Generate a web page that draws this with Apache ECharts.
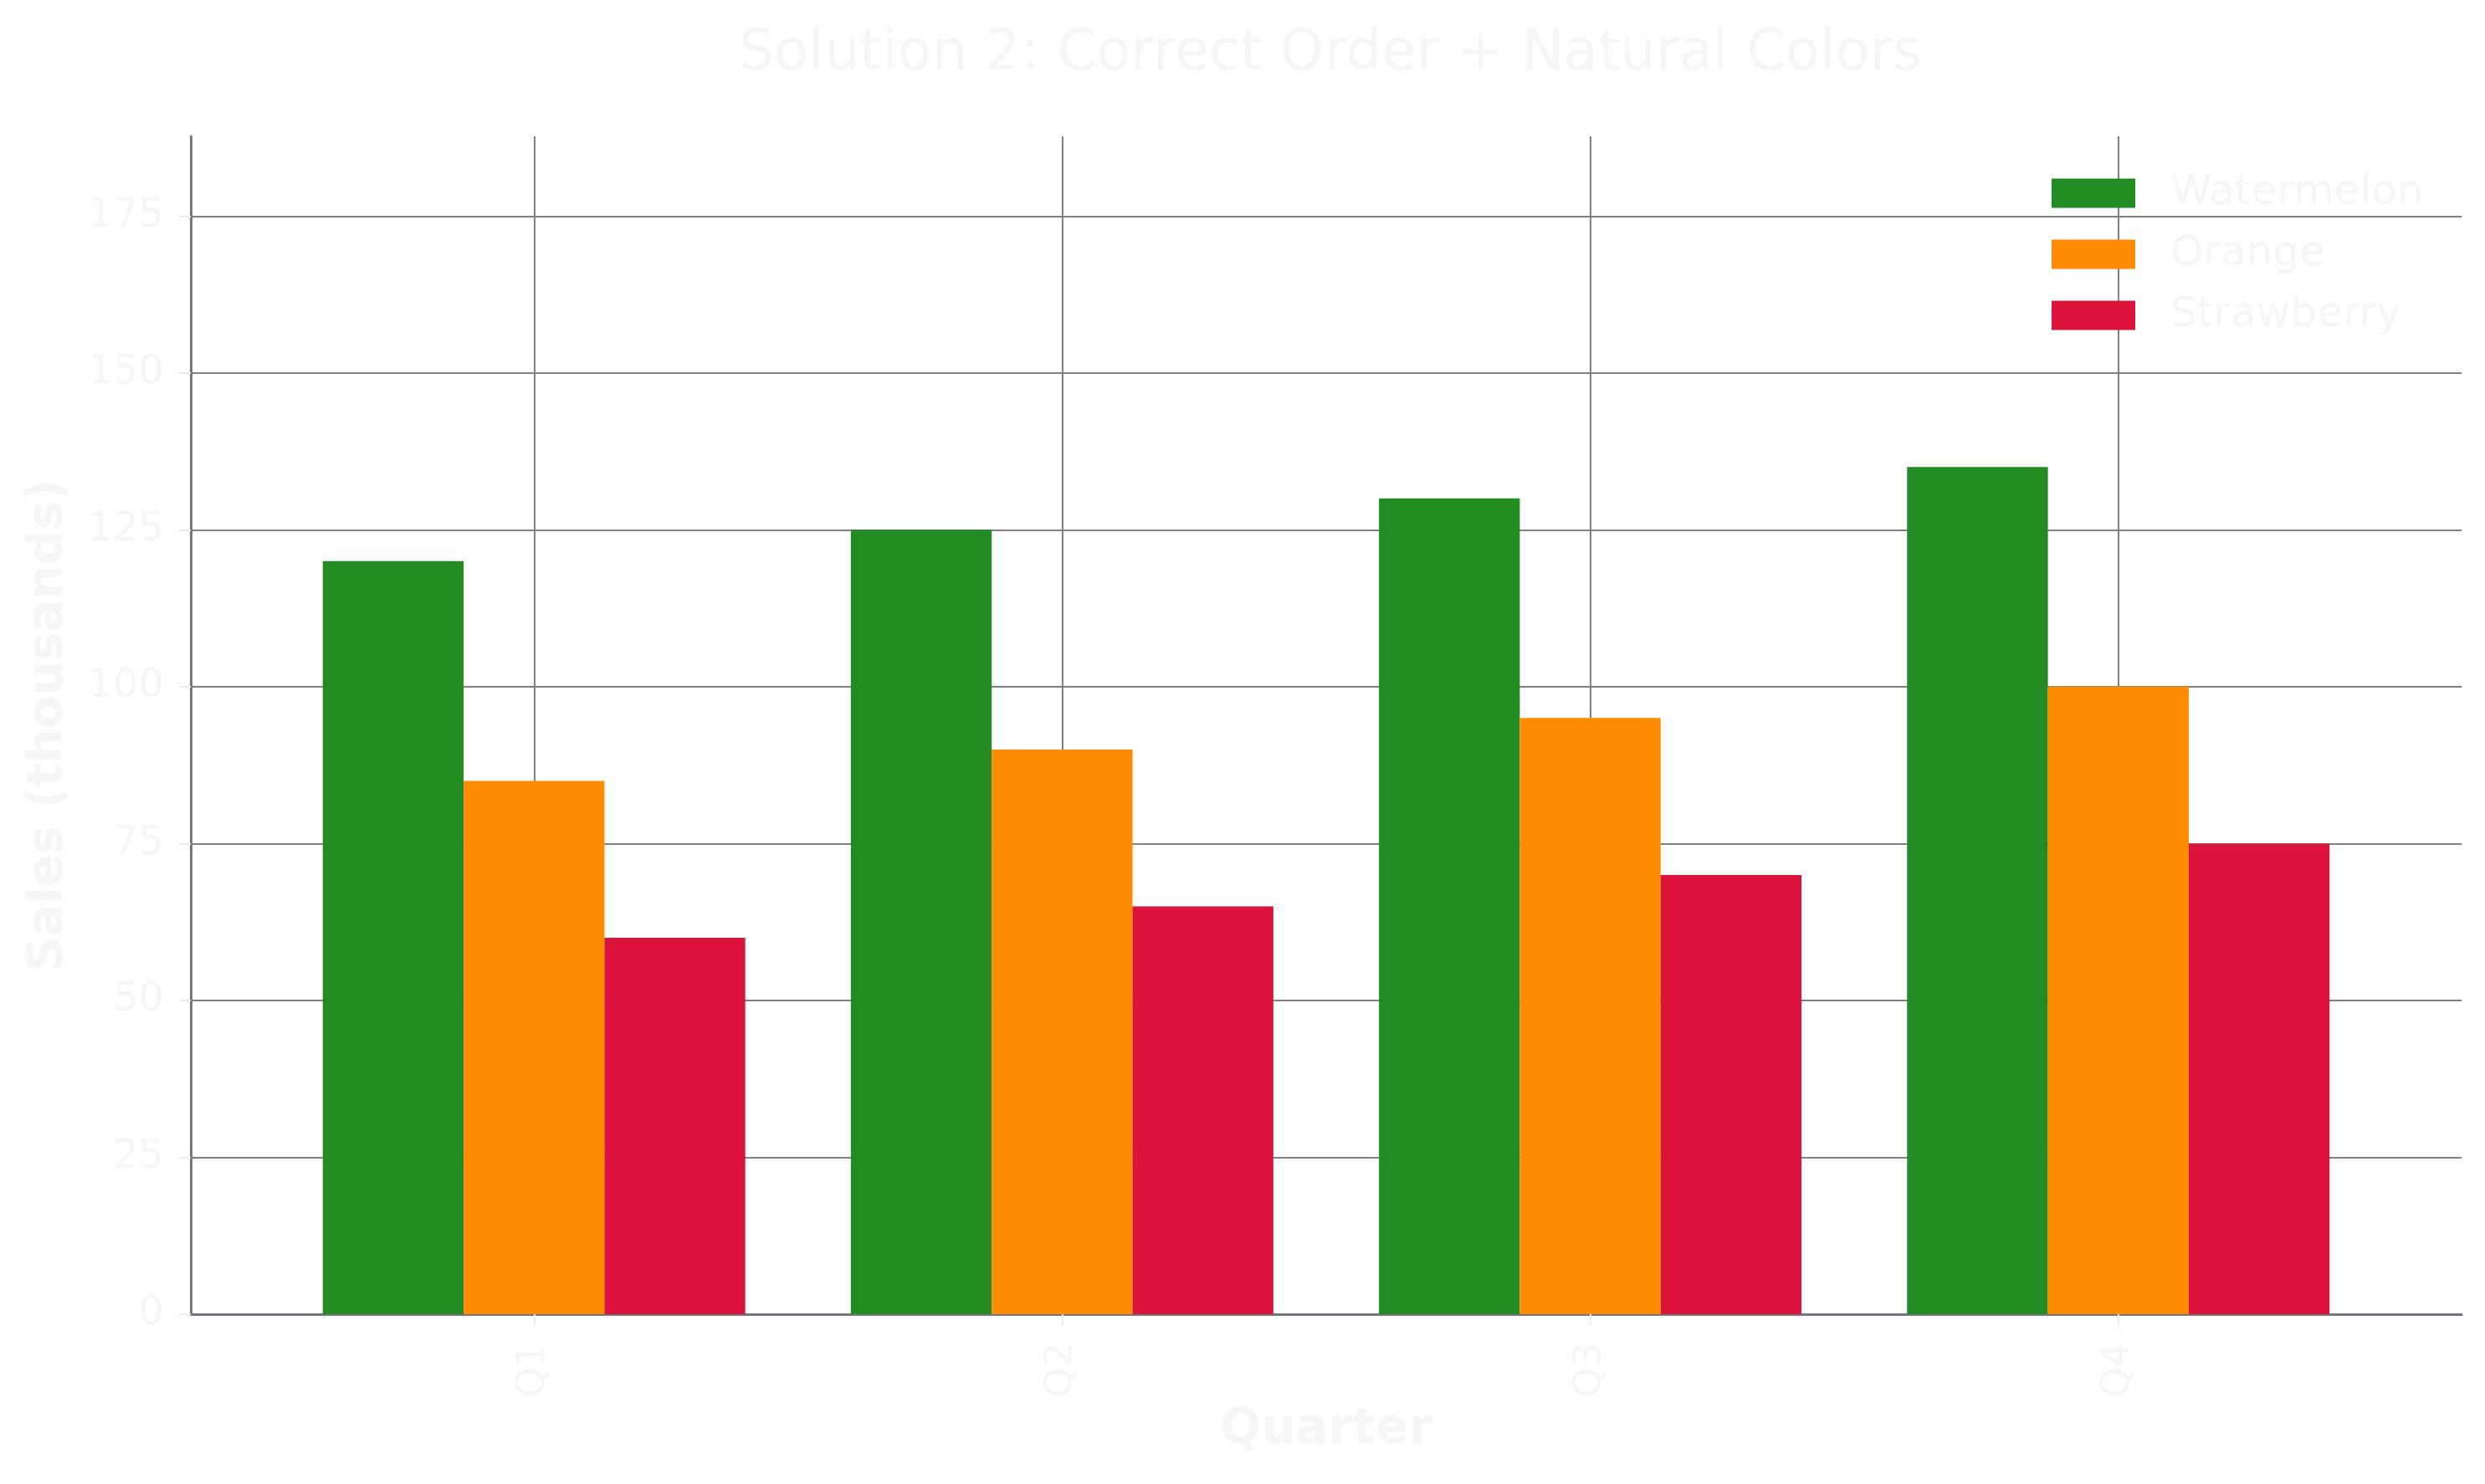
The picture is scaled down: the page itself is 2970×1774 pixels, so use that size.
<!DOCTYPE html>
<html>
<head>
<meta charset="utf-8">
<title>Solution 2: Correct Order + Natural Colors</title>
<script src="https://cdn.jsdelivr.net/npm/echarts@6.0.0/dist/echarts.min.js"></script>
<style>
  html, body { margin: 0; padding: 0; background: #ffffff; }
  #chart { width: 2970px; height: 1774px; }
</style>
</head>
<body>
<div id="chart"></div>
<script>
var quarters = ['Q1', 'Q2', 'Q3', 'Q4'];
var fruitNames = ['Watermelon', 'Orange', 'Strawberry'];
var watermelon = [120, 125, 130, 135];
var orange = [85, 90, 95, 100];
var strawberry = [60, 65, 70, 75];
var fruitColors = ['#228B22', '#FF8C00', '#DC143C'];

var chart = (function () {
    var lightText = '#f6f6f6';
    var gridColor = '#808080';
    var axisColor = '#75757f';
    var font = '"DejaVu Sans", sans-serif';

    var toPoints, buildSeries, init;

    // bars sit on a value x axis so the margins match the original
    toPoints = function (arr) {
        var out = [];
        for (var i = 0; i < arr.length; i++) {
            out.push([i, arr[i]]);
        }
        return out;
    };

    buildSeries = function () {
        var all = [watermelon, orange, strawberry];
        var s = [];
        for (var k = 0; k < all.length; k++) {
            s.push({
                name: fruitNames[k],
                type: 'bar',
                data: toPoints(all[k]),
                barWidth: (80 / 3) + '%',
                barGap: '0%',
                itemStyle: { color: fruitColors[k] }
            });
        }
        return s;
    };

    init = function () {
        var c = echarts.init(document.getElementById('chart'));
        var qIdx = [0, 1, 2, 3];

        var option = {
            animation: false,
            backgroundColor: '#ffffff',
            textStyle: { fontFamily: font },
            title: {
                text: 'Solution 2: Correct Order + Natural Colors',
                left: 1585,
                top: 27,
                textAlign: 'center',
                textStyle: { color: lightText, fontSize: 67, fontWeight: 'normal', fontFamily: font }
            },
            legend: {
                orient: 'vertical',
                left: 2447,
                top: 201,
                icon: 'rect',
                itemWidth: 100,
                itemHeight: 35,
                itemGap: 23,
                selectedMode: false,
                data: fruitNames,
                textStyle: { color: lightText, fontSize: 50, fontFamily: font, padding: [4, 0, 0, 37] }
            },
            grid: {
                left: 228,
                right: 28,
                top: 163,
                bottom: 203,
                containLabel: false,
                outerBoundsMode: 'none'
            },
            xAxis: {
                type: 'value',
                min: -0.65,
                max: 3.65,
                name: 'Quarter',
                nameLocation: 'middle',
                nameGap: 110,
                nameTextStyle: { color: lightText, fontSize: 58, fontWeight: 'bold', fontFamily: font },
                axisLine: { show: true, onZero: false, lineStyle: { color: axisColor, width: 3 } },
                axisTick: { show: true, length: 14, customValues: qIdx, lineStyle: { color: '#ececec', width: 2 } },
                axisLabel: {
                    customValues: qIdx,
                    rotate: 90,
                    margin: 34,
                    color: lightText,
                    fontSize: 46,
                    fontFamily: font,
                    formatter: function (v) { return quarters[Math.round(v)]; }
                },
                splitLine: { show: true, customValues: qIdx, lineStyle: { color: gridColor, width: 2 } }
            },
            yAxis: {
                type: 'value',
                min: 0,
                max: 187.7,
                interval: 25,
                name: 'Sales (thousands)',
                nameLocation: 'middle',
                nameGap: 140,
                nameTextStyle: { color: lightText, fontSize: 58, fontWeight: 'bold', fontFamily: font },
                axisLine: { show: true, onZero: false, lineStyle: { color: axisColor, width: 3 } },
                axisTick: { show: true, length: 14, lineStyle: { color: '#ececec', width: 2 } },
                axisLabel: { margin: 32, color: lightText, fontSize: 48, fontFamily: font, showMaxLabel: false },
                splitLine: { show: true, showMaxLine: false, lineStyle: { color: gridColor, width: 2 } }
            },
            series: buildSeries()
        };

        c.setOption(option);
        return c;
    };

    return { init: init };
}());

chart.init();
</script>
</body>
</html>
